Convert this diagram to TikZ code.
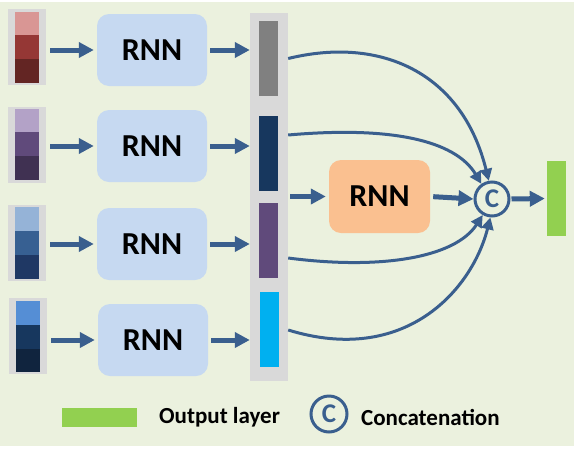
\documentclass[tikz,border=0pt]{standalone}
\usepackage{fontspec}
\setmainfont{Carlito}
\usetikzlibrary{arrows.meta}
\definecolor{bg}{HTML}{EBF1DE}
\definecolor{rnnblue}{HTML}{C6D9F1}
\definecolor{rnnorange}{HTML}{FAC090}
\definecolor{backgray}{HTML}{D9D9D9}
\definecolor{arrowblue}{HTML}{3A5F8E}
\definecolor{outgreen}{HTML}{92D050}
\definecolor{ra}{HTML}{D99694}
\definecolor{rb}{HTML}{953735}
\definecolor{rc}{HTML}{632523}
\definecolor{pa}{HTML}{B3A2C7}
\definecolor{pb}{HTML}{604A7B}
\definecolor{pc}{HTML}{403152}
\definecolor{ba}{HTML}{95B3D7}
\definecolor{bb}{HTML}{376092}
\definecolor{bc}{HTML}{1F3864}
\definecolor{da}{HTML}{558ED5}
\definecolor{db}{HTML}{17375E}
\definecolor{dc}{HTML}{10243E}
\definecolor{bargray}{HTML}{808080}
\definecolor{barnavy}{HTML}{17375E}
\definecolor{barpurple}{HTML}{604A7B}
\definecolor{barcyan}{HTML}{00B0F0}
\tikzset{
  rnnbox/.style={rounded corners=12pt, minimum width=110pt, minimum height=72pt, inner sep=0pt,
    font=\fontsize{32}{32}\selectfont\bfseries},
  stackbox/.style={fill=backgray, minimum width=38pt, minimum height=76pt, inner sep=0pt},
  thickarr/.style={draw=arrowblue, line width=5pt, -{Triangle[length=15pt,width=15pt]}},
  curvearr/.style={draw=arrowblue, line width=3pt, -{Triangle[length=12pt,width=12pt]}},
  concat/.style={circle, draw=arrowblue, line width=3pt, fill=bg, inner sep=0pt,
    text=arrowblue, font=\fontsize{27}{27}\selectfont\bfseries},
  legendtext/.style={anchor=west, inner sep=0pt, font=\fontsize{23}{23}\selectfont\bfseries}
}
\begin{document}
\begin{tikzpicture}[x=1pt,y=-1pt]
\useasboundingbox (0,0) rectangle (576,448);
\fill[bg] (0,1.5) rectangle (574,446);

% input stacks
\node[stackbox] (s1) at (27,47) {};
\fill[ra] (15,12) rectangle (39,35);
\fill[rb] (15,35) rectangle (39,59);
\fill[rc] (15,59) rectangle (39,83);
\node[stackbox] (s2) at (27,145) {};
\fill[pa] (15,109) rectangle (39,132);
\fill[pb] (15,132) rectangle (39,156);
\fill[pc] (15,156) rectangle (39,180);
\node[stackbox] (s3) at (27,243) {};
\fill[ba] (15,207) rectangle (39,231);
\fill[bb] (15,231) rectangle (39,255);
\fill[bc] (15,255) rectangle (39,279);
\node[stackbox] (s4) at (28,336) {};
\fill[da] (16,301) rectangle (40,325);
\fill[db] (16,325) rectangle (40,349);
\fill[dc] (16,349) rectangle (40,372);

% RNN boxes
\node[rnnbox, fill=rnnblue] (r1) at (152,50) {RNN};
\node[rnnbox, fill=rnnblue] (r2) at (152,146) {RNN};
\node[rnnbox, fill=rnnblue] (r3) at (152,244) {RNN};
\node[rnnbox, fill=rnnblue] (r4) at (153,340) {RNN};

% column
\node[fill=backgray, minimum width=38pt, minimum height=368pt, inner sep=0pt] (col) at (269,197) {};
\node[fill=bargray, minimum width=19pt, minimum height=75pt, inner sep=0pt] (b1) at (268.5,58.5) {};
\node[fill=barnavy, minimum width=19pt, minimum height=75pt, inner sep=0pt] (b2) at (268.5,153.5) {};
\node[fill=barpurple, minimum width=19pt, minimum height=75pt, inner sep=0pt] (b3) at (268.5,240.5) {};
\node[fill=barcyan, minimum width=19pt, minimum height=75pt, inner sep=0pt] (b4) at (269.5,329.5) {};

% arrows stacks -> RNN
\foreach \i in {1,2,3,4}{
  \draw[thickarr, shorten <=4pt, shorten >=3pt] (s\i.east |- r\i.west) -- (r\i.west);
  \draw[thickarr, shorten <=3pt] (r\i.east) -- (col.west |- r\i.east);
}

% second-level RNN
\node[rnnbox, fill=rnnorange, minimum width=101pt, minimum height=73pt] (o) at (379.5,196.5) {RNN};
\draw[thickarr, shorten <=2pt, shorten >=3pt] (col.east |- o.west) -- (o.west);

% concatenation and output
\node[concat, minimum size=34pt] (c) at (492,199) {C};
\node[fill=outgreen, minimum width=19pt, minimum height=75pt, inner sep=0pt] (g) at (556.5,198.5) {};
\draw[thickarr, shorten <=3pt] (o.east) -- (c.west);
\draw[thickarr, shorten <=1pt, shorten >=2pt] (c.east) -- (g.west);

% curved connectors
\draw[curvearr] (col.east |- b1.east) .. controls (380,36) and (462,72) .. (c.100);
\draw[curvearr] (col.east |- 0,135) .. controls (390,126) and (455,140) .. (c.125);
\draw[curvearr] (col.east |- 0,258) .. controls (380,270) and (455,258) .. (c.240);
\draw[curvearr] (col.east |- 0,330) .. controls (405,366) and (472,290) .. (c.265);

% legend
\node[fill=outgreen, minimum width=75pt, minimum height=19pt, inner sep=0pt] (lg) at (99.5,417.5) {};
\node[legendtext] (lgt) at (159,417) {Output layer};
\node[concat, minimum size=36pt] (lc) at (329,414) {C};
\node[legendtext] (lct) at (361,417) {Concatenation};
\end{tikzpicture}
\end{document}
